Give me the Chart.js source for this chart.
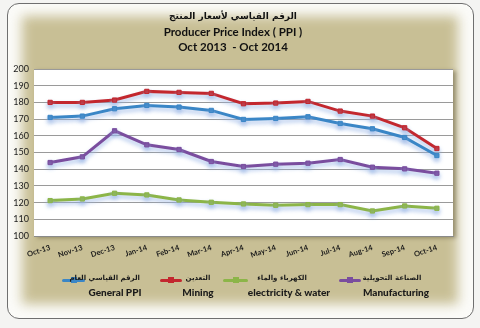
<!DOCTYPE html>
<html>
<head>
<meta charset="utf-8">
<script src="https://cdn.jsdelivr.net/npm/chart.js@4/dist/chart.umd.min.js"></script>
<style>
  html, body { margin: 0; padding: 0; }
  body { width: 480px; height: 328px; background: #f4f4f2; position: relative; overflow: hidden;
         font-family: Lato, "DejaVu Sans", sans-serif; }
  .frame { position: absolute; left: 7px; top: 3px; width: 465px; height: 314px;
           border: 1px solid #6f6f6f; border-radius: 12px; background: #fbfbf8; overflow: hidden; }
  .panel { position: absolute; left: 22px; top: 16px; width: 436px; height: 288px;
           background: #c8bf95; filter: blur(6px); }
  canvas#c { position: absolute; left: 0; top: 0; }
  .t { position: absolute; left: 0; width: 466px; text-align: center; font-weight: bold; color: #111; }
  .ar { font-family: "DejaVu Sans", sans-serif; }
  .lg { position: absolute; font-weight: bold; color: #1a1a1a; white-space: nowrap; }
  .icon { position: absolute; height: 3px; border-radius: 2px; }
  .icon i { position: absolute; left: 50%; top: -2px; width: 6px; height: 6px; margin-left: -3px; }
</style>
</head>
<body>
<div class="frame"></div>
<div class="panel"></div>
<canvas id="c" width="480" height="328"></canvas>

<div class="t ar" style="top:11px;font-size:9px;" dir="rtl">الرقم القياسي لأسعار المنتج</div>
<div class="t" style="top:25px;font-size:11.5px;">Producer Price Index ( PPI )</div>
<div class="t" style="top:40px;font-size:11.5px;">Oct 2013 &nbsp;- Oct 2014</div>

<div id="legend"></div>

<script>
// Monthly index values, Oct 2013 - Oct 2014
const months = ['Oct-13','Nov-13','Dec-13','Jan-14','Feb-14','Mar-14','Apr-14','May-14','Jun-14','Jul-14','Aug-14','Sep-14','Oct-14'];
const generalPPI    = [171.0, 171.8, 176.2, 178.2, 177.2, 175.2, 169.8, 170.4, 171.4, 167.4, 164.2, 159.0, 148.2];
const mining        = [180.0, 180.0, 181.4, 186.6, 186.0, 185.4, 179.2, 179.6, 180.6, 174.8, 171.8, 164.8, 152.4];
const electricity   = [121.2, 122.2, 125.6, 124.6, 121.6, 120.2, 119.2, 118.4, 118.8, 118.8, 115.0, 118.0, 116.6];
const manufacturing = [144.0, 147.4, 163.0, 154.6, 151.8, 144.6, 141.6, 143.0, 143.6, 145.8, 141.2, 140.2, 137.6];

const seriesNames = [
  { ar: 'الرقم القياسي العام', en: 'General  PPI' },
  { ar: 'التعدين', en: 'Mining' },
  { ar: 'الكهرباء والماء', en: 'electricity & water' },
  { ar: 'الصناعة التحويلية', en: 'Manufacturing' }
];
const yMin = 100, yMax = 200, yStep = 10;

const colors = ['#3a86c6', '#c3272e', '#8cb548', '#7a4d9e'];
const values = [generalPPI, mining, electricity, manufacturing];

// White plot area with a faint drop shadow
const plotBg = {
  id: 'plotBg',
  beforeDraw(chart) {
    const { ctx, chartArea: a } = chart;
    ctx.save();
    ctx.shadowColor = 'rgba(80,70,40,0.45)';
    ctx.shadowBlur = 4;
    ctx.shadowOffsetX = 3;
    ctx.shadowOffsetY = 2;
    ctx.fillStyle = '#ffffff';
    ctx.fillRect(a.left, a.top, a.right - a.left, a.bottom - a.top);
    ctx.restore();
  }
};

// Soft pale-blue glow under each series line
const lineGlow = {
  id: 'lineGlow',
  beforeDatasetDraw(chart) {
    const ctx = chart.ctx;
    ctx.save();
    ctx.shadowColor = 'rgba(150,180,230,0.8)';
    ctx.shadowBlur = 4;
    ctx.shadowOffsetY = 3;
  },
  afterDatasetDraw(chart) {
    chart.ctx.restore();
  }
};

new Chart(document.getElementById('c'), {
  type: 'line',
  data: {
    labels: months,
    datasets: values.map((v, i) => ({
      label: seriesNames[i].en,
      data: v,
      borderColor: colors[i],
      backgroundColor: colors[i],
      borderWidth: 3,
      pointStyle: 'rect',
      pointRadius: 3,
      pointBorderWidth: 1,
      pointBorderColor: colors[i],
      pointBackgroundColor: colors[i],
      tension: 0,
      fill: false
    }))
  },
  options: {
    responsive: false,
    animation: false,
    devicePixelRatio: 1,
    layout: { padding: { left: 0, right: 27, top: 69, bottom: 0 } },
    plugins: { legend: { display: false }, tooltip: { enabled: false } },
    scales: {
      x: {
        offset: true,
        grid: { display: false, drawTicks: false },
        border: { display: true, color: '#8a8a8a', width: 1 },
        ticks: {
          color: '#1a1a1a',
          font: { family: 'Lato', size: 7.5, weight: 'bold' },
          minRotation: 18, maxRotation: 18,
          padding: 7,
          autoSkip: false
        },
        afterFit(scale) { scale.height = 92; }
      },
      y: {
        min: yMin, max: yMax,
        grid: { color: '#9a9a9a', lineWidth: 1, drawTicks: false },
        border: { display: false },
        ticks: {
          stepSize: yStep,
          color: '#1a1a1a',
          font: { family: 'Lato', size: 9 },
          padding: 5
        },
        afterFit(scale) { scale.width = 34; }
      }
    }
  },
  plugins: [plotBg, lineGlow]
});

// Legend: line icon with marker, Arabic name beside it, English name below
const legendLayout = [
  { icon: [62, 23], ar: [86, 54], en: 115 },
  { icon: [160, 22], ar: [183, 30], en: 198 },
  { icon: [223, 25], ar: [256, 52], en: 289 },
  { icon: [339, 22], ar: [361, 62], en: 396 }
];
const lg = document.getElementById('legend');
seriesNames.forEach((s, i) => {
  const L = legendLayout[i];
  const ic = document.createElement('div');
  ic.className = 'icon';
  ic.style.cssText = `left:${L.icon[0]}px;top:279px;width:${L.icon[1]}px;background:${colors[i]};`;
  const m = document.createElement('i');
  m.style.background = colors[i];
  ic.appendChild(m);
  lg.appendChild(ic);

  const a = document.createElement('div');
  a.className = 'lg ar';
  a.dir = 'rtl';
  a.style.cssText = `left:${L.ar[0]}px;top:274px;width:${L.ar[1]}px;text-align:center;font-size:7px;`;
  a.textContent = s.ar;
  lg.appendChild(a);

  const e = document.createElement('div');
  e.className = 'lg';
  e.style.cssText = `left:${L.en - 60}px;top:286px;width:120px;text-align:center;font-size:10px;font-weight:900;`;
  e.textContent = s.en;
  lg.appendChild(e);
});
</script>
</body>
</html>
